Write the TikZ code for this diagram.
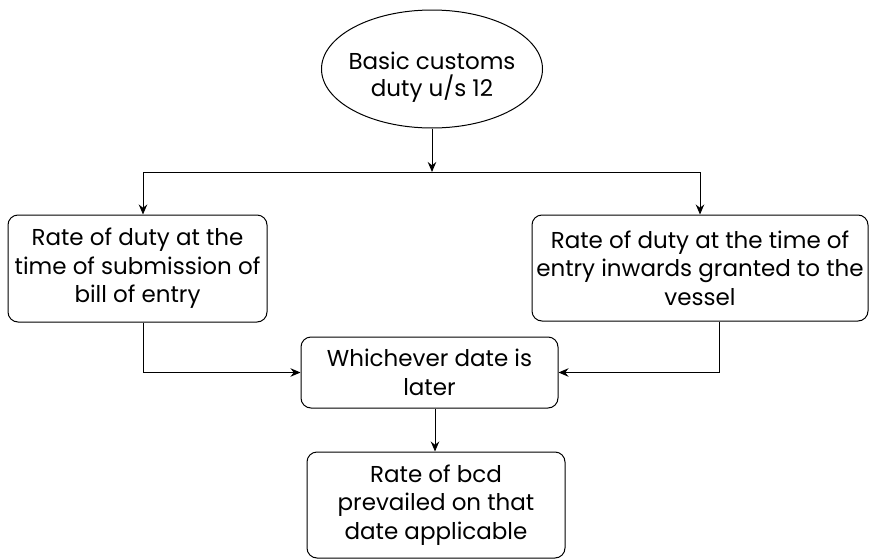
\documentclass[tikz,border=0pt]{standalone}
\usepackage{fontspec}
\setmainfont{Poppins}
\usetikzlibrary{shapes.geometric,arrows.meta}
\begin{document}
\begin{tikzpicture}[x=1pt,y=-1pt,
  every node/.style={font=\fontsize{23}{28.5}\selectfont, align=center, text=black},
  box/.style={draw, rounded corners=10pt, line width=1pt, inner sep=0pt},
  oval/.style={draw, ellipse, line width=1pt, inner sep=0pt},
  conn/.style={line width=1pt, -{Stealth[length=10pt,width=8.5pt]}},
  line/.style={line width=1pt}]
\useasboundingbox (0,0) rectangle (871,560);
\node[oval, minimum width=221pt, minimum height=118pt] (top) at (432,69) {};
\node[font=\fontsize{23}{27}\selectfont] (toptext) at ([yshift=-8pt]top.center) {Basic customs\\duty u/s 12};
\coordinate (split) at (432,172);
\coordinate (sl) at (143,172);
\coordinate (sr) at (700,172);
\node[box, minimum width=259pt, minimum height=107pt] (left) at (137.5,268.5) {Rate of duty at the\\time of submission of\\bill of entry};
\node[box, minimum width=336pt, minimum height=106pt] (right) at (700,268) {Rate of duty at the time of\\entry inwards granted to the\\vessel};
\node[box, minimum width=257pt, minimum height=71pt] (mid) at (429.5,372.5) {Whichever date is\\later};
\node[box, minimum width=258pt, minimum height=106pt] (bot) at (436,505) {Rate of bcd\\prevailed on that\\date applicable};
\draw[conn] (top.south) -- (split);
\draw[line] (sl) -- (sr);
\draw[conn] (sl) -- (sl |- left.north);
\draw[conn] (sr) -- (sr |- right.north);
\draw[conn] (left.south -| 143,0) |- (mid.west);
\draw[conn] (right.south -| 719,0) |- (mid.east);
\draw[conn] (mid.south -| 435,0) -- (bot.north -| 435,0);
\end{tikzpicture}
\end{document}
